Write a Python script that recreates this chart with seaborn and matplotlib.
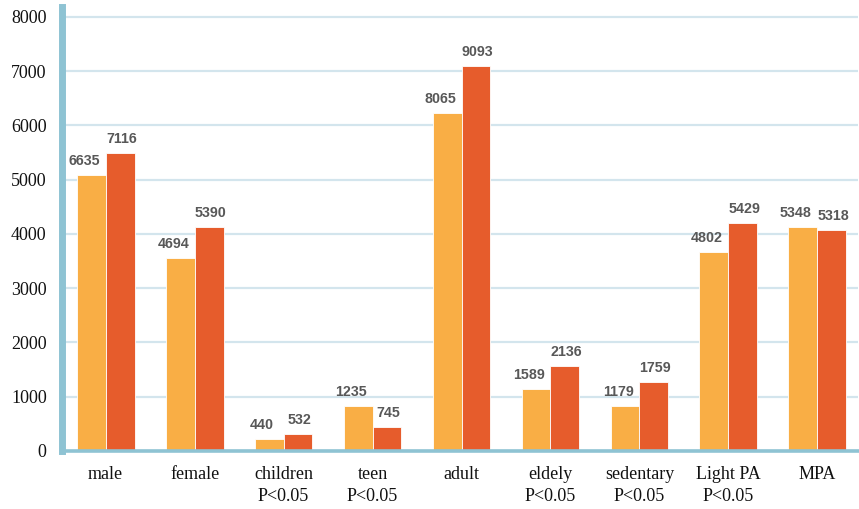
import matplotlib
matplotlib.use("Agg")
import matplotlib.pyplot as plt
import numpy as np
import pandas as pd
import seaborn as sns

# categories and the two series (bar heights)
categories = ["male", "female", "children", "teen", "adult",
              "eldely", "sedentary", "Light PA", "MPA"]
tick_labels = ["male", "female", "children\nP<0.05", "teen\nP<0.05", "adult",
               "eldely\nP<0.05", "sedentary\nP<0.05", "Light PA\nP<0.05", "MPA"]
series_names = ["Series 1", "Series 2"]
heights_1 = [5090, 3560, 216, 833, 6231, 1134, 838, 3664, 4127]
heights_2 = [5496, 4121, 315, 444, 7087, 1564, 1271, 4206, 4071]
# numbers printed above the bars
labels_1 = ["6635", "4694", "440", "1235", "8065", "1589", "1179", "4802", "5348"]
labels_2 = ["7116", "5390", "532", "745", "9093", "2136", "1759", "5429", "5318"]

df = pd.DataFrame({
    "category": categories * 2,
    "series": [series_names[0]] * len(categories) + [series_names[1]] * len(categories),
    "value": heights_1 + heights_2,
})

sns.set_style("white")
plt.rcParams["font.family"] = ["Liberation Serif", "DejaVu Serif"]

fig = plt.figure(figsize=(8.59, 5.09), dpi=100)
ax = fig.add_axes([0.0722, 0.114, 0.927, 0.872])

sns.barplot(data=df, x="category", y="value", hue="series", order=categories,
            palette=["#F9AE45", "#E65C2C"], width=0.65, saturation=1,
            edgecolor="white", linewidth=0.6, legend=False, ax=ax, zorder=3)

# value labels
offsets = [-5, 1]
for cont, labs, dx in zip(ax.containers, [labels_1, labels_2], offsets):
    for bar, lab in zip(cont, labs):
        ax.annotate(lab, (bar.get_x() + bar.get_width() / 2, bar.get_height()),
                    xytext=(dx, 7.2), textcoords="offset points",
                    ha="center", va="baseline", fontsize=10.3, fontweight="bold",
                    color="#585858", family="Liberation Sans", zorder=4)

ax.set_xlim(-0.49, 8.46)
ax.set_ylim(0, 8180)
ax.set_yticks(np.arange(0, 8001, 1000))
ax.set_xticks(range(len(categories)))
ax.set_xticklabels(tick_labels)
ax.set_xlabel("")
ax.set_ylabel("")
for t in ax.get_xticklabels():
    t.set_linespacing(1.35)

ax.grid(axis="y", color="#D3E5ED", linewidth=1.6, zorder=0)
ax.set_axisbelow(True)

for s in ["top", "right"]:
    ax.spines[s].set_visible(False)
ax.spines["left"].set_color("#8EC3D3")
ax.spines["left"].set_linewidth(5)
ax.spines["bottom"].set_color("#8EC3D3")
ax.spines["bottom"].set_linewidth(2.6)
ax.spines["left"].set_zorder(5)
ax.spines["bottom"].set_zorder(5)

ax.tick_params(axis="y", length=0, pad=11, labelsize=13, labelcolor="#111111")
ax.tick_params(axis="x", length=0, pad=11, labelsize=13, labelcolor="#111111")

fig.savefig("out.png", dpi=100)
